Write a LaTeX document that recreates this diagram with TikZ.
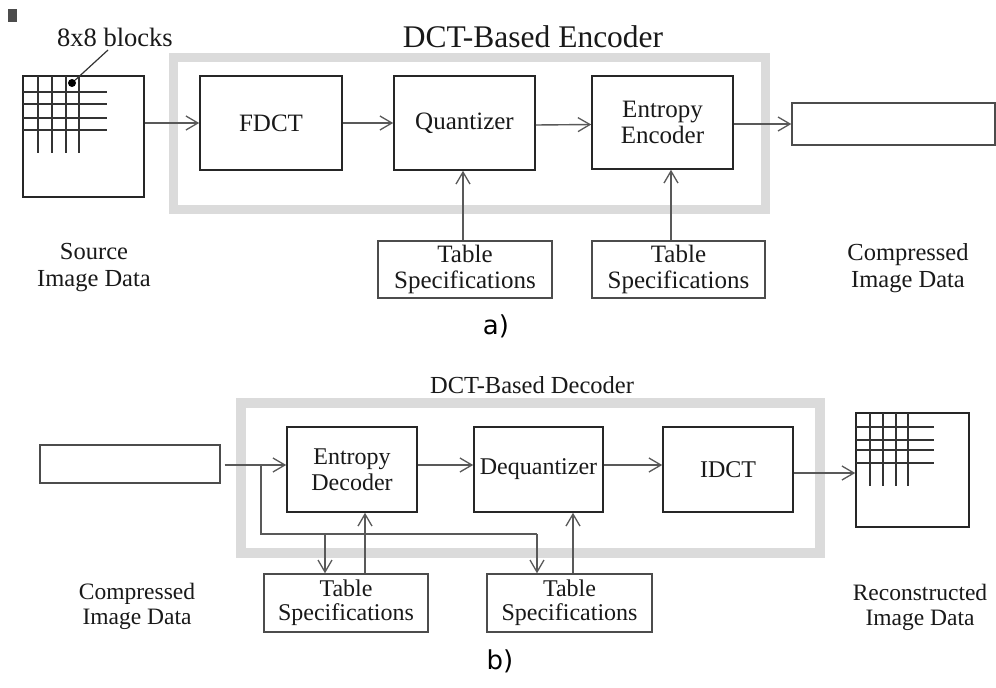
\documentclass[tikz,border=0pt]{standalone}
\usepackage{fontspec}
\setmainfont{Liberation Serif}
\newfontfamily\labsans{DejaVu Sans}
\usetikzlibrary{arrows.meta}
\begin{document}
\begin{tikzpicture}[x=1pt,y=-1pt,
  blk/.style={draw=black!85, line width=1.6pt, inner sep=0pt, align=center, font=\fontsize{25}{26}\selectfont, text=black!90},
  blkb/.style={blk, font=\fontsize{24}{26}\selectfont},
  tsbox/.style={draw=black!70, line width=1.4pt, inner sep=0pt, align=center, font=\fontsize{25}{26}\selectfont, text=black!90},
  tsboxb/.style={tsbox, font=\fontsize{24}{24}\selectfont},
  frm/.style={draw=black!14, line width=9pt},
  conn/.style={draw=black!65, line width=1.4pt, -{Straight Barb[length=12pt,width=14pt,line width=1.3pt]}},
  plain/.style={draw=black!65, line width=1.4pt},
  gridl/.style={draw=black!80, line width=1.5pt},
  lab/.style={align=center, font=\fontsize{24.5}{27}\selectfont, text=black!90, inner sep=0pt},
  labb/.style={align=center, font=\fontsize{23.5}{25}\selectfont, text=black!90, inner sep=0pt},
  sub/.style={font=\labsans\fontsize{26}{28}\selectfont, inner sep=0pt}
]
\useasboundingbox[fill=white] (0,0) rectangle (996,688);
% scan artefact
\fill[black!70] (8,9) rectangle (17,22);

% ===== a) encoder =====
\draw[frm] (173,57) rectangle (765,209);
\node[lab, font=\fontsize{31.5}{33}\selectfont] (enctitle) at (533,37) {DCT-Based Encoder};

\node[blk, minimum width=121pt, minimum height=121pt] (src) at (83.5,136.5) {};
\foreach \x in {38,52,66,79} \draw[gridl] (\x,76) -- (\x,153);
\foreach \y in {92,104,118,130} \draw[gridl] (23,\y) -- (107,\y);
\node[circle, fill=black, inner sep=0pt, minimum size=8pt] (dot) at (72,83) {};
\node[lab, font=\fontsize{26.5}{28}\selectfont] (blocks) at (115,37) {8x8 blocks};
\coordinate (lead) at (108,50);
\draw[black!80, line width=1.2pt] (dot) -- (lead);

\node[blk, minimum width=142pt, minimum height=94pt] (fdct) at (271,123) {FDCT};
\node[blk, minimum width=141pt, minimum height=94pt] (quant) at (464.5,123) {Quantizer};
\node[blk, minimum width=141pt, minimum height=93pt] (ee) at (662.5,122.5) {Entropy\\Encoder};
\node[tsbox, minimum width=203pt, minimum height=42pt] (comp1) at (893.5,124) {};
\node[tsbox, minimum width=174pt, minimum height=57pt] (ts1) at (465,269.5) {Table\\Specifications};
\node[tsbox, minimum width=173pt, minimum height=57pt] (ts2) at (678.5,269.5) {Table\\Specifications};

\draw[conn] (src.east |- fdct.west) -- (fdct.west);
\draw[conn] (fdct.east) -- (quant.west);
\draw[conn] ([yshift=-2pt]quant.east) -- ([yshift=-2pt]ee.west);
\draw[conn] (ee.east |- comp1.west) -- (comp1.west);
\draw[conn] ([xshift=-2pt]ts1.north) -- ([xshift=-2pt]ts1.north |- quant.south);
\draw[conn] ([xshift=-7.5pt]ts2.north) -- ([xshift=-7.5pt]ts2.north |- ee.south);

\node[lab] (srctxt) at (94,268) {Source\\Image Data};
\node[lab] (comptxt) at (908,268) {Compressed\\Image Data};
\node[sub] (suba) at (496,326) {a)};

% ===== b) decoder =====
\draw[frm, line width=10pt] (241,403) rectangle (820,553);
\node[lab, font=\fontsize{24.5}{26}\selectfont] (dectitle) at (532,385) {DCT-Based Decoder};

\node[tsbox, minimum width=180pt, minimum height=38pt] (comp2) at (130,464) {};
\node[blkb, minimum width=130pt, minimum height=85pt] (ed) at (352,469.5) {Entropy\\Decoder};
\node[blkb, minimum width=129pt, minimum height=85pt] (dq) at (538.5,469.5) {Dequantizer};
\node[blkb, minimum width=130pt, minimum height=85pt] (idct) at (728,469.5) {IDCT};
\node[blk, minimum width=113pt, minimum height=114pt] (rec) at (912.5,470) {};
\foreach \x in {870,883,896,908} \draw[gridl] (\x,413) -- (\x,486);
\foreach \y in {427,440,450,463} \draw[gridl] (856,\y) -- (934,\y);

\node[tsboxb, minimum width=164pt, minimum height=58pt] (ts3) at (346,603) {Table\\Specifications};
\node[tsboxb, minimum width=165pt, minimum height=58pt] (ts4) at (569.5,603) {Table\\Specifications};

\coordinate (br) at (261,465);
\coordinate (bus) at (261,534);
\coordinate (tap) at (325,534);
\coordinate (busend) at (537,534);
\draw[conn] ([xshift=4pt]comp2.east |- br) -- (br -| ed.west);
\draw[plain] (br) -- (bus) -- (busend);
\draw[conn] (busend) -- (busend |- ts4.north);
\draw[conn] (tap) -- (tap |- ts3.north);
\draw[conn] ([xshift=19pt]ts3.north) -- ([xshift=19pt]ts3.north |- ed.south);
\draw[conn] ([xshift=3.5pt]ts4.north) -- ([xshift=3.5pt]ts4.north |- dq.south);
\draw[conn] (ed.east |- br) -- (dq.west |- br);
\draw[conn] (dq.east |- br) -- (idct.west |- br);
\draw[conn] ([yshift=-3pt]idct.east |- rec.west) -- ([yshift=-3pt]rec.west);

\node[labb] (comptxt2) at (137,606) {Compressed\\Image Data};
\node[labb] (rectxt) at (920,607) {Reconstructed\\Image Data};
\node[sub] (subb) at (500,661) {b)};
\end{tikzpicture}
\end{document}
